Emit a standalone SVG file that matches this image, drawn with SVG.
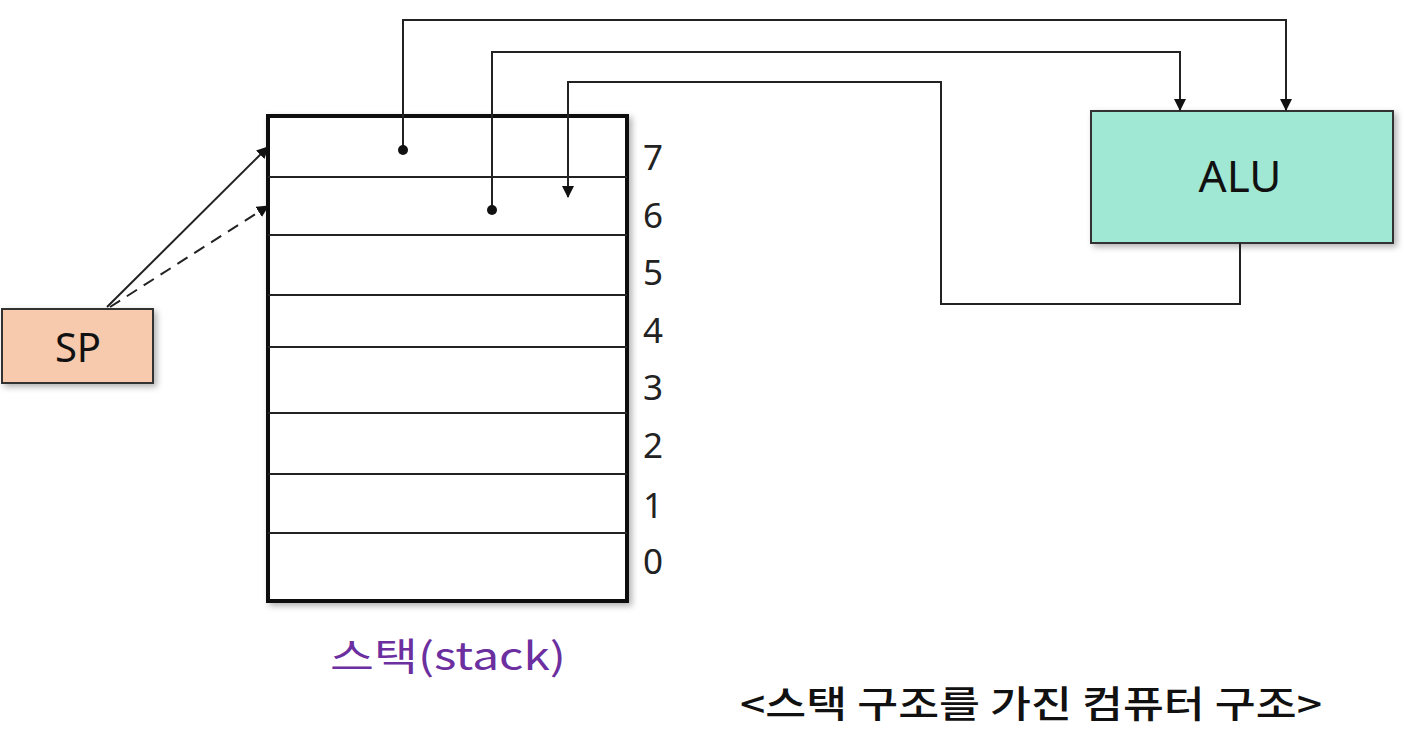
<svg xmlns="http://www.w3.org/2000/svg" width="1404" height="743" viewBox="0 0 1404 743">
<defs>
<style>
.wire{fill:none;stroke:#222;stroke-width:2}
.row{stroke:#222;stroke-width:2}
.num{font-family:"Noto Sans","Noto Sans CJK KR",sans-serif;font-size:35px;fill:#222;text-anchor:middle}
.lbl{font-family:"Noto Sans","Noto Sans CJK KR",sans-serif;fill:#111;text-anchor:middle}
</style>
<marker id="ah" viewBox="0 0 12 12" refX="11" refY="6" markerWidth="12" markerHeight="12" markerUnits="userSpaceOnUse" orient="auto">
<path d="M0,0 L12,6 L0,12 Z" fill="#111"/>
</marker>
<filter id="sh" x="-10%" y="-10%" width="130%" height="130%">
<feDropShadow dx="3" dy="3" stdDeviation="3" flood-color="#000" flood-opacity="0.3"/>
</filter>
</defs>
<rect width="1404" height="743" fill="#fff"/>

<g id="stack">
<rect x="268" y="116" width="359" height="485" fill="#fff" stroke="#111" stroke-width="4" filter="url(#sh)"/>
<line class="row" x1="268" y1="177" x2="627" y2="177"/>
<line class="row" x1="268" y1="235" x2="627" y2="235"/>
<line class="row" x1="268" y1="295" x2="627" y2="295"/>
<line class="row" x1="268" y1="347" x2="627" y2="347"/>
<line class="row" x1="268" y1="413" x2="627" y2="413"/>
<line class="row" x1="268" y1="474" x2="627" y2="474"/>
<line class="row" x1="268" y1="533" x2="627" y2="533"/>
<text class="num" x="653" y="170">7</text>
<text class="num" x="653" y="228">6</text>
<text class="num" x="653" y="285">5</text>
<text class="num" x="653" y="343">4</text>
<text class="num" x="653" y="400">3</text>
<text class="num" x="653" y="458">2</text>
<text class="num" x="653" y="518">1</text>
<text class="num" x="653" y="574">0</text>
</g>

<g id="sp">
<rect x="2" y="309" width="151" height="74" fill="#f7c9ad" stroke="#333" stroke-width="2" filter="url(#sh)"/>
<text class="lbl" x="78" y="362" font-size="40">SP</text>
</g>

<g id="alu">
<rect x="1091" y="111" width="302" height="132" fill="#a0e8d4" stroke="#333" stroke-width="2" filter="url(#sh)"/>
<text class="lbl" x="1240" y="192" font-size="44">ALU</text>
</g>

<g id="connectors">
<line class="wire" x1="107" y1="307" x2="268" y2="147" marker-end="url(#ah)"/>
<line class="wire" x1="110" y1="307" x2="268" y2="206" stroke-dasharray="12,8" marker-end="url(#ah)"/>
<polyline class="wire" points="403,150 403,20 1286,20 1286,110" marker-end="url(#ah)"/>
<circle cx="403" cy="150" r="5" fill="#111"/>
<polyline class="wire" points="492,210 492,52 1180,52 1180,110" marker-end="url(#ah)"/>
<circle cx="492" cy="210" r="5" fill="#111"/>
<polyline class="wire" points="1240,243 1240,304 941,304 941,82 568,82 568,197" marker-end="url(#ah)"/>
</g>

<g id="captions">
<text x="330" y="670" font-family="Noto Sans CJK KR,sans-serif" font-size="38" fill="#6b2fa0" textLength="236" lengthAdjust="spacingAndGlyphs">스택(stack)</text>
<text x="740" y="718" font-family="Noto Sans CJK KR,sans-serif" font-size="37" font-weight="500" fill="#111" textLength="582" lengthAdjust="spacingAndGlyphs">&lt;스택 구조를 가진 컴퓨터 구조&gt;</text>
</g>
</svg>
